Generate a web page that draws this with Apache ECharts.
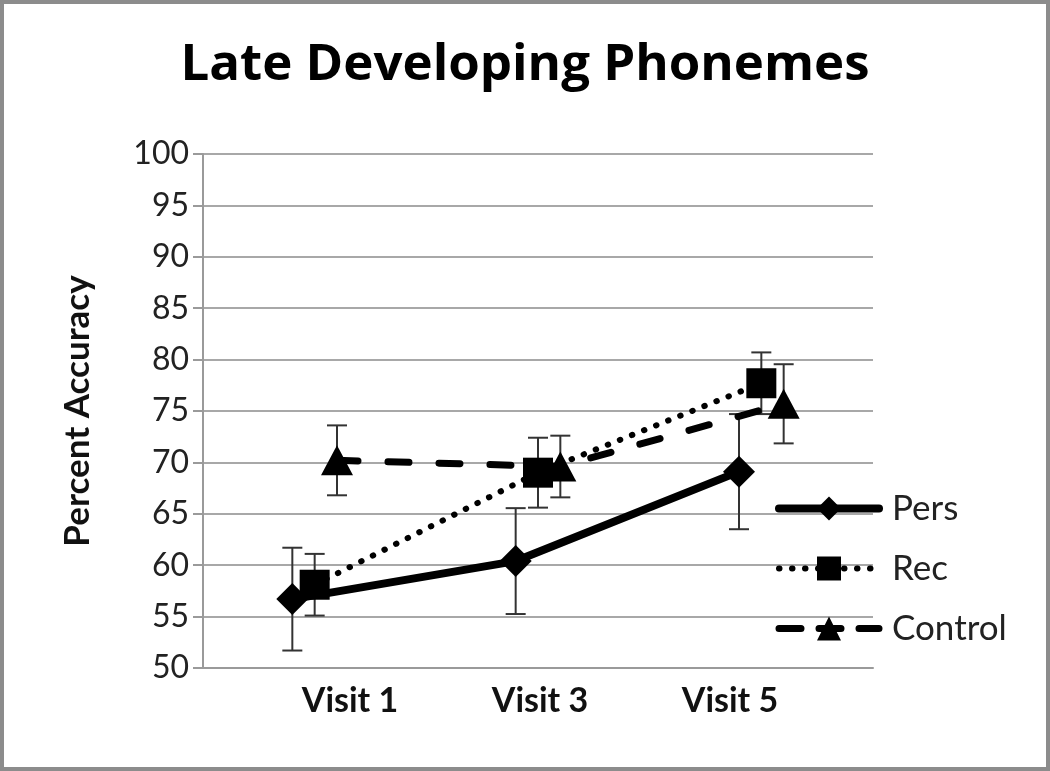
<!DOCTYPE html>
<html>
<head>
<meta charset="utf-8">
<script src="https://cdn.jsdelivr.net/npm/echarts@6/dist/echarts.min.js"></script>
<style>
  html, body { margin: 0; padding: 0; background: #fff; }
  #chart { width: 1050px; height: 771px; box-sizing: border-box; border: 4px solid #8c8c8c; }
</style>
</head>
<body>
<div id="chart"></div>
<script>
// Data
const categories = ["Visit 1", "Visit 3", "Visit 5"]
const seriesNames = ["Pers", "Rec", "Control"]
const persValues = [56.7, 60.4, 69.1]
const persErrors = [5.0, 5.15, 5.6]
const recValues = [58.1, 69.0, 77.7]
const recErrors = [3.0, 3.4, 3.0]
const controlValues = [70.2, 69.6, 75.7]
const controlErrors = [3.4, 3.0, 3.85]
const yTicks = [50, 55, 60, 65, 70, 75, 80, 85, 90, 95, 100]

// dodge each series a little sideways inside its category slot
const dodge = [-0.1, 0, 0.1]
const FONT = "Lato, 'Open Sans', sans-serif"

const chart = echarts.init(document.getElementById("chart"))

const groups = [
  { values: persValues, errors: persErrors, symbol: "diamond", symbolSize: [32, 32], line: { width: 8, type: "solid" }, legendType: "solid" },
  { values: recValues, errors: recErrors, symbol: "rect", symbolSize: [30, 30], line: { width: 6, type: [0.5, 12.5] }, legendType: [0.5, 12.5] },
  { values: controlValues, errors: controlErrors, symbol: "triangle", symbolSize: [32, 30], line: { width: 7, type: [21, 30] }, legendType: [22, 18] },
]

const lineSeries = groups.map((g, s) => ({
  name: seriesNames[s],
  type: "line",
  xAxisIndex: 0,
  yAxisIndex: 0,
  data: g.values.map((v, i) => [i + 0.5 + dodge[s], v]),
  symbol: g.symbol,
  symbolSize: g.symbolSize,
  showAllSymbol: true,
  itemStyle: { color: "#000" },
  lineStyle: { color: "#000", width: g.line.width, type: g.line.type, cap: "round" },
  z: 3,
}))

const errorSeries = groups.map((g, s) => ({
  type: "custom",
  xAxisIndex: 0,
  yAxisIndex: 0,
  data: g.values.map((v, i) => [i + 0.5 + dodge[s], v - g.errors[i], v + g.errors[i]]),
  renderItem: (params, api) => {
    const lo = api.coord([api.value(0), api.value(1)])
    const hi = api.coord([api.value(0), api.value(2)])
    const cap = 10
    const style = { stroke: "#333", lineWidth: 2, fill: null }
    return {
      type: "group",
      children: [
        { type: "line", shape: { x1: lo[0], y1: lo[1], x2: hi[0], y2: hi[1] }, style },
        { type: "line", shape: { x1: lo[0] - cap, y1: lo[1], x2: lo[0] + cap, y2: lo[1] }, style },
        { type: "line", shape: { x1: hi[0] - cap, y1: hi[1], x2: hi[0] + cap, y2: hi[1] }, style },
      ],
    }
  },
  z: 2,
  silent: true,
}))

const option = {
  backgroundColor: "#fff",
  animation: false,
  title: {
    text: "Late Developing Phonemes",
    left: "center",
    top: 31,
    textStyle: { fontFamily: "'Open Sans', Lato, sans-serif", fontWeight: "bold", fontSize: 51, color: "#000" },
  },
  legend: {
    data: seriesNames.map((name, s) => ({
      name,
      lineStyle: { width: groups[s].line.width, type: groups[s].legendType, cap: "round", color: "#000" },
    })),
    orient: "vertical",
    left: 766,
    top: 482,
    itemWidth: 100,
    itemHeight: 30,
    itemGap: 25,
    textStyle: { fontFamily: FONT, fontSize: 35, color: "#222", padding: [0, 0, 0, 8] },
  },
  grid: [
    { left: 199, right: 173, top: 150, bottom: 99 },
    // label strip for the visit names
    { left: 251, right: 221, top: 150, bottom: 99 },
  ],
  xAxis: [
    {
      type: "value",
      gridIndex: 0,
      min: 0,
      max: 3,
      axisLine: { show: true, onZero: false, lineStyle: { color: "#9a9a9a", width: 2 } },
      axisTick: { show: false },
      axisLabel: { show: false },
      splitLine: { show: false },
    },
    {
      type: "category",
      gridIndex: 1,
      data: categories,
      axisLine: { show: false },
      axisTick: { show: false },
      axisLabel: { margin: 16, fontFamily: FONT, fontWeight: "bold", fontSize: 34, color: "#111" },
    },
  ],
  yAxis: [
    {
      type: "value",
      gridIndex: 0,
      min: yTicks[0],
      max: yTicks[yTicks.length - 1],
      interval: 5,
      name: "Percent Accuracy",
      nameLocation: "middle",
      nameGap: 108,
      nameTextStyle: { fontFamily: FONT, fontWeight: "bold", fontSize: 35, color: "#111" },
      axisLine: { show: true, lineStyle: { color: "#9a9a9a", width: 2 } },
      axisTick: { show: true, length: 10, lineStyle: { color: "#9a9a9a", width: 2 } },
      axisLabel: { margin: 14, fontFamily: FONT, fontSize: 32, color: "#222" },
      splitLine: { lineStyle: { color: "#a8a8a8", width: 2 } },
    },
    { type: "value", gridIndex: 1, show: false },
  ],
  series: [...errorSeries, ...lineSeries],
}

chart.setOption(option)
</script>
</body>
</html>
